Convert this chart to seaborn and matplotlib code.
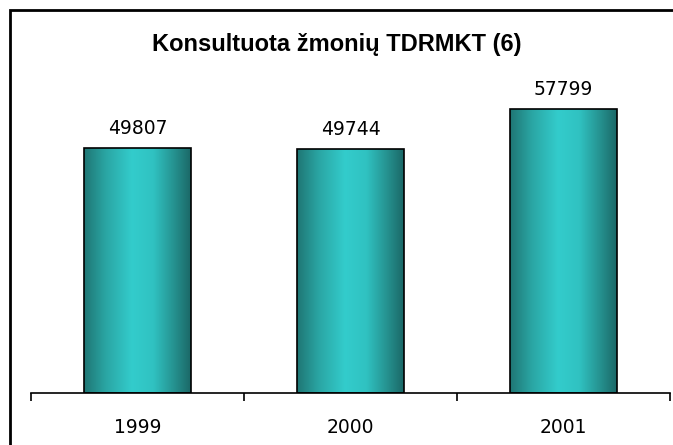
import numpy as np
import pandas as pd
import matplotlib
matplotlib.use('Agg')
import matplotlib.pyplot as plt
import seaborn as sns
from matplotlib.colors import LinearSegmentedColormap
from matplotlib.patches import Rectangle

years = ['1999', '2000', '2001']
consulted = [49807, 49744, 57799]
title = 'Konsultuota žmonių TDRMKT (6)'

df = pd.DataFrame({'year': years, 'people': consulted})

sns.set_style('white')
plt.rcParams['font.family'] = ['DejaVu Sans']
plt.rcParams['text.color'] = 'black'
plt.rcParams['xtick.color'] = 'black'

fig = plt.figure(figsize=(6.73, 4.45), dpi=100)
ax = fig.add_axes([31 / 673, 52 / 445, 639 / 673, 344 / 445])

sns.barplot(data=df, x='year', y='people', width=0.5, ax=ax,
            color='#33cccc', edgecolor='black', linewidth=1.2)

# cylinder-like shading on each bar
cmap = LinearSegmentedColormap.from_list(
    'teal', [(0, '#1f7674'), (0.2, '#2aa5a3'), (0.45, '#33cccc'),
             (0.65, '#30c2c1'), (0.85, '#25908e'), (1, '#1b6867')])
grad = np.linspace(0, 1, 256).reshape(1, -1)
for p in ax.patches:
    x0, y0 = p.get_x(), p.get_y()
    w, h = p.get_width(), p.get_height()
    im = ax.imshow(grad, cmap=cmap, aspect='auto', extent=[x0, x0 + w, y0, y0 + h],
                   zorder=p.get_zorder() - 0.1)
    im.set_clip_path(p)
    p.set_facecolor('none')

for i, v in enumerate(consulted):
    ax.text(i, v + 2000, str(v), ha='center', va='bottom', fontsize=13.5, color='black')

ax.set_xlim(-0.5, 2.5)
ax.set_ylim(0, 70000)
ax.set_xlabel('')
ax.set_ylabel('')
ax.set_yticks([])
for s in ['left', 'right', 'top']:
    ax.spines[s].set_visible(False)
ax.spines['bottom'].set_color('black')
ax.spines['bottom'].set_linewidth(1.2)
ax.set_xticks([-0.5, 0.5, 1.5, 2.5], minor=False)
ax.set_xticklabels([])
ax.tick_params(axis='x', which='major', bottom=True, direction='out', length=6,
               width=1.2, color='black')
ax.set_xticks([0, 1, 2], minor=True)
ax.set_xticklabels(years, minor=True, fontsize=13.5, color='black')
ax.tick_params(axis='x', which='minor', bottom=False, length=0, pad=18)

fig.text(0.5, 1 - 45 / 445, title, ha='center', va='center', fontsize=17,
         fontweight='bold', color='black', family=['Liberation Sans', 'DejaVu Sans'])

# chart frame (extends past right and bottom edges)
fig.patches.append(Rectangle((10 / 673, -0.1), 1.0, (445 - 10) / 445 + 0.1,
                             transform=fig.transFigure, fill=False,
                             edgecolor='black', linewidth=2))

fig.savefig('out.png', dpi=100)
